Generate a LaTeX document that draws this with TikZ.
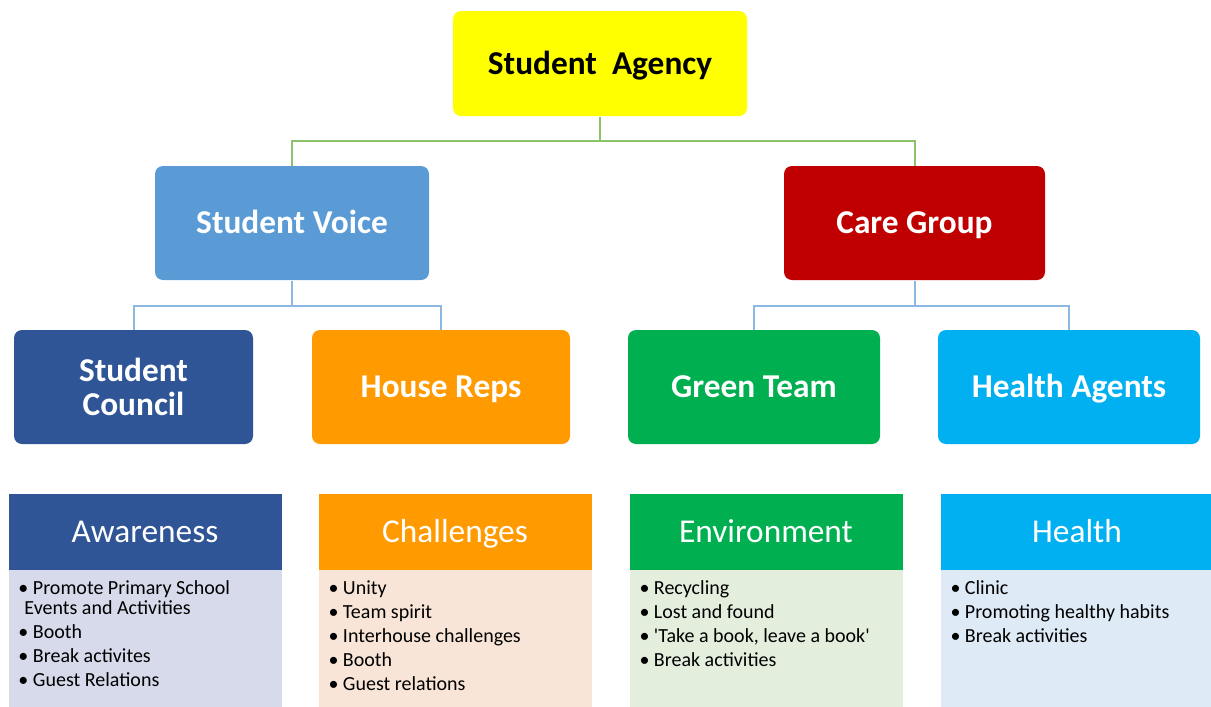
\documentclass[tikz,border=0pt]{standalone}
\usepackage{fontspec}
\setmainfont{Carlito}

\definecolor{agencyyellow}{HTML}{FFFF00}
\definecolor{voiceblue}{HTML}{5B9BD5}
\definecolor{carered}{HTML}{C00000}
\definecolor{councilblue}{HTML}{2F5597}
\definecolor{repsorange}{HTML}{FF9A00}
\definecolor{teamgreen}{HTML}{00B050}
\definecolor{agentsblue}{HTML}{00B0F0}
\definecolor{awarebody}{HTML}{D6DAEA}
\definecolor{challbody}{HTML}{F8E5D7}
\definecolor{envbody}{HTML}{E3EFDC}
\definecolor{healthbody}{HTML}{DEEAF5}
\definecolor{linkgreen}{HTML}{8CC26A}
\definecolor{linkblue}{HTML}{8DB8E2}

\newcommand{\bl}{\textbullet\ }

\tikzset{every picture/.style={line width=0.75pt}}
\tikzset{
  rolebox/.style={rounded corners=6pt, minimum height=85.5pt, align=center, inner sep=0pt,
    text=white, font=\fontsize{25}{25.5}\selectfont\bfseries},
  oneline/.style={text height=17.5pt, text depth=1.5pt},
  headbox/.style={anchor=north west, minimum width=204.75pt, minimum height=57pt, inner sep=0pt,
    text=white, font=\fontsize{25}{28}\selectfont, oneline},
  bodybox/.style={anchor=north west, minimum width=204.75pt, minimum height=103.5pt, inner sep=0pt},
  itemlist/.style={anchor=north west, align=left, inner sep=0pt, font=\fontsize{15}{18}\selectfont},
  greenlink/.style={draw=linkgreen, line width=1.5pt},
  bluelink/.style={draw=linkblue, line width=1.5pt}
}

\begin{document}
\begin{tikzpicture}[x=0.75pt,y=0.75pt,yscale=-1,xscale=1]
\useasboundingbox (0,0) rectangle (1211,707);

% Top box
\node [rolebox, oneline, fill=agencyyellow, text=black, minimum width=220.5pt, minimum height=78.75pt] (agency) at (600,63.5) {Student\ \ Agency};

% Second row
\node [rolebox, oneline, fill=voiceblue, minimum width=205.5pt] (voice) at (292,223) {Student Voice};
\node [rolebox, oneline, fill=carered, minimum width=195.75pt] (care) at (914.5,223) {Care Group};

% Third row
\node [rolebox, fill=councilblue, minimum width=179.25pt] (council) at (133.5,387) {Student\\Council};
\node [rolebox, oneline, fill=repsorange, minimum width=193.5pt] (reps) at (441,387) {House Reps};
\node [rolebox, oneline, fill=teamgreen, minimum width=189pt] (team) at (754,387) {Green Team};
\node [rolebox, oneline, fill=agentsblue, minimum width=196.5pt] (agents) at (1069,387) {Health Agents};

% Connectors
\draw [greenlink] (agency.south) -- ++(0,24) -| (voice.north);
\draw [greenlink] (agency.south) -- ++(0,24) -| (care.north);
\draw [bluelink] (voice.south) -- ++(0,25) -| (council.north);
\draw [bluelink] (voice.south) -- ++(0,25) -| (reps.north);
\draw [bluelink] (care.south) -- ++(0,25) -| (team.north);
\draw [bluelink] (care.south) -- ++(0,25) -| (agents.north);

% Bottom panels
\node [bodybox, fill=awarebody] (awarebody) at (8,569) {};
\node [headbox, fill=councilblue] (aware) at (8,493) {Awareness};
\node [itemlist] (awarelist) at (18,580) {\bl Promote Primary School\\[-3pt]\hspace*{4.5pt}Events and Activities\\\bl Booth\\\bl Break activites\\\bl Guest Relations};

\node [bodybox, fill=challbody] (challbody) at (318,569) {};
\node [headbox, fill=repsorange] (chall) at (318,493) {Challenges};
\node [itemlist] (challlist) at (328,580) {\bl Unity\\\bl Team spirit\\\bl Interhouse challenges\\\bl Booth\\\bl Guest relations};

\node [bodybox, fill=envbody] (envbody) at (629,569) {};
\node [headbox, fill=teamgreen] (env) at (629,493) {Environment};
\node [itemlist] (envlist) at (639,580) {\bl Recycling\\\bl Lost and found\\\bl \textquotesingle Take a book, leave a book\textquotesingle\\\bl Break activities};

\node [bodybox, fill=healthbody] (healthbody) at (940,569) {};
\node [headbox, fill=agentsblue] (health) at (940,493) {Health};
\node [itemlist] (healthlist) at (950,580) {\bl Clinic\\\bl Promoting healthy habits\\\bl Break activities};

\end{tikzpicture}
\end{document}
